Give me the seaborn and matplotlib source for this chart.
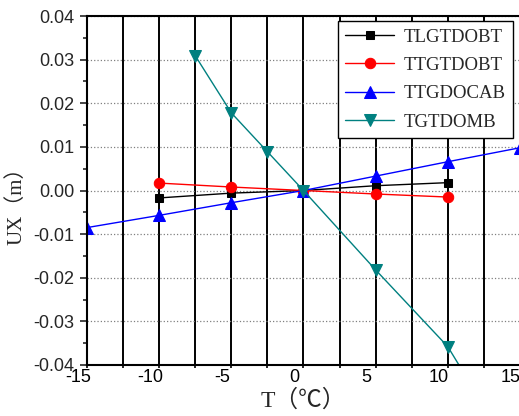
import matplotlib
matplotlib.use("Agg")
import matplotlib.pyplot as plt
import matplotlib.transforms as mtransforms
from matplotlib.ticker import MultipleLocator
import pandas as pd
import seaborn as sns

# temperature steps (deg C) and displacement UX (m)
t_main = [-10, -5, 0, 5, 10]
ux_tlgtdobt = [-0.0017, -0.0006, 0.0, 0.0011, 0.0018]
ux_ttgtdobt = [0.0017, 0.0008, 0.0, -0.0008, -0.0015]

t_cab = [-15, -10, -5, 0, 5, 10, 15]
ux_ttgdocab = [-0.0085, -0.0057, -0.0028, 0.0, 0.0033, 0.0066, 0.0098]

t_omb = [-7.5, -5, -2.5, 0, 5, 10, 12.5]
ux_tgtdomb = [0.0309, 0.0178, 0.0089, 0.0, -0.0182, -0.0358, -0.0494]

series = [
    ("TLGTDOBT", t_main, ux_tlgtdobt, "black", "s", 6),
    ("TTGTDOBT", t_main, ux_ttgtdobt, "red", "o", 7.5),
    ("TTGDOCAB", t_cab, ux_ttgdocab, "blue", "^", 8),
    ("TGTDOMB", t_omb, ux_tgtdomb, "#008080", "v", 8),
]

sns.set_style("ticks")
plt.rcParams["font.family"] = ["Liberation Sans", "DejaVu Sans"]
plt.rcParams["axes.unicode_minus"] = False

fig = plt.figure(figsize=(5.19, 4.16), dpi=100)
ax = fig.add_axes([0.1676, 0.1226, 0.8343, 0.8389])

for name, xs, ys, color, marker, ms in series:
    df = pd.DataFrame({"T": xs, "UX": ys})
    sns.lineplot(data=df, x="T", y="UX", ax=ax, color=color, marker=marker,
                 markersize=ms, markeredgecolor=color, linewidth=1.0,
                 label=name, sort=False)

ax.set_xlim(-15, 15)
ax.set_ylim(-0.04, 0.04)
ax.xaxis.set_major_locator(MultipleLocator(5))
ax.xaxis.set_minor_locator(MultipleLocator(2.5))
ax.yaxis.set_major_locator(MultipleLocator(0.01))
ax.yaxis.set_minor_locator(MultipleLocator(0.005))
ax.yaxis.set_major_formatter(plt.FuncFormatter(lambda v, p: f"{v:.2f}"))

ax.set_axisbelow(True)
ax.grid(axis="x", which="both", color="black", linewidth=1.4)
ax.grid(axis="y", which="major", color="#808080", linestyle=":", linewidth=0.9)

for side in ["left", "bottom", "top"]:
    ax.spines[side].set_visible(True)
    ax.spines[side].set_linewidth(1.5)
    ax.spines[side].set_color("black")
ax.spines["right"].set_visible(False)

ax.tick_params(axis="x", which="both", direction="out", length=2, width=1.2,
               pad=1, labelsize=13, colors="black")
ax.tick_params(axis="y", which="major", direction="out", length=5, width=1.2,
               pad=4, labelsize=13)
ax.tick_params(axis="y", which="minor", direction="out", length=3, width=1.2)

# Origin-style x labels sit slightly left of their tick
offset = mtransforms.ScaledTranslation(-0.09, 0, fig.dpi_scale_trans)
for lab in ax.xaxis.get_majorticklabels():
    lab.set_transform(lab.get_transform() + offset)

label_font = ["Liberation Serif", "Noto Sans CJK SC", "DejaVu Serif"]
ax.set_xlabel("T（℃）", fontsize=17, family=label_font)
ax.set_ylabel("UX（m）", fontsize=15, family=label_font)
ax.xaxis.set_label_coords(0.5, -0.07)
ax.yaxis.set_label_coords(-0.14, 0.47)

leg = ax.legend(loc="upper right", bbox_to_anchor=(0.984, 0.986),
                borderaxespad=0, fancybox=False, framealpha=1,
                edgecolor="black", prop={"family": "Liberation Serif", "size": 13.5},
                handlelength=2.6, handletextpad=0.5, labelspacing=0.6,
                borderpad=0.4)
leg.get_frame().set_linewidth(1.0)

fig.savefig("out.png", dpi=100)
plt.close(fig)
